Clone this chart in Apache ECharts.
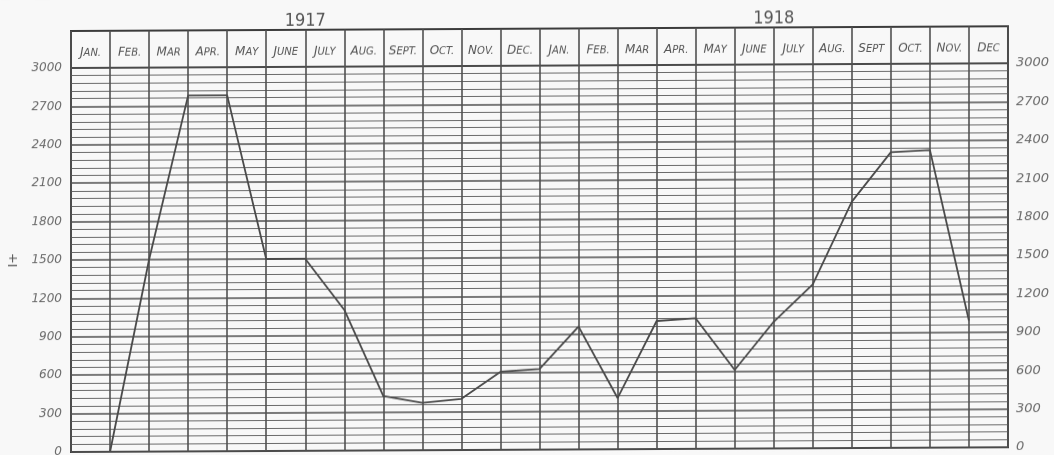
<!DOCTYPE html>
<html>
<head>
<meta charset="utf-8">
<script src="https://cdn.jsdelivr.net/npm/echarts@6/dist/echarts.min.js"></script>
<style>
html,body{margin:0;padding:0;background:#f8f8f8;overflow:hidden;}
#chart{width:1054px;height:455px;transform:skewY(-0.29deg);transform-origin:71px 0;}
</style>
</head>
<body>
<div id="chart"></div>
<script>
// ---- data ----
const years = ['1917', '1918'];
const months = ['JAN.','FEB.','MAR','APR.','MAY','JUNE','JULY','AUG.','SEPT.','OCT.','NOV.','DEC.',
                'JAN.','FEB.','MAR','APR.','MAY','JUNE','JULY','AUG.','SEPT','OCT.','NOV.','DEC'];
// value at the start of each month (Jan 1917 has no reading)
const values = [null, 0, 1500, 2780, 2780, 1500, 1500, 1100, 425, 370, 400, 610,
                630, 960, 400, 1000, 1020, 615, 990, 1280, 1925, 2310, 2325, 990];
const yMin = 0, yMax = 3000, yStep = 300;
const yName = 'I+';

// ---- chart ----
const ink = '#4a4a4a';
const chart = echarts.init(document.getElementById('chart'), null, {renderer: 'canvas', width: 1054, height: 455});
const seriesData = values.map((v, i) => [i, v]).filter(d => d[1] !== null);

chart.setOption({
  backgroundColor: '#f8f8f8',
  animation: false,
  grid: [
    {left: 71, width: 937, top: 68, height: 384, outerBoundsMode: 'none', containLabel: false,
     show: true, borderColor: '#3c3c3c', borderWidth: 2},
    {left: 71, width: 937, top: 31, height: 37, outerBoundsMode: 'none', containLabel: false,
     show: true, borderColor: '#3c3c3c', borderWidth: 2}
  ],
  xAxis: [
    {gridIndex: 0, type: 'value', min: 0, max: months.length, interval: 1,
     axisLine: {show: false}, axisTick: {show: false}, axisLabel: {show: false},
     splitLine: {show: true, lineStyle: {color: '#505050', width: 1.6}}},
    {gridIndex: 1, type: 'category', data: months, boundaryGap: true, position: 'bottom',
     axisLine: {show: false}, axisTick: {show: false},
     splitLine: {show: true, interval: 0, lineStyle: {color: '#505050', width: 1.6}},
     axisLabel: {inside: true, interval: 0, margin: 9,
       formatter: v => '{a|' + v[0] + '}{b|' + v.slice(1) + '}',
       rich: {
         a: {fontFamily: 'DejaVu Sans', fontStyle: 'italic', fontSize: 12, color: '#555'},
         b: {fontFamily: 'DejaVu Sans', fontStyle: 'italic', fontSize: 10, color: '#555'}
       }}},
    {gridIndex: 1, type: 'category', data: years, boundaryGap: true, position: 'top',
     axisLine: {show: false}, axisTick: {show: false}, splitLine: {show: false},
     axisLabel: {margin: 0, fontFamily: "'Liberation Sans Narrow','DejaVu Sans Condensed',sans-serif",
       fontSize: 18, color: '#555'}}
  ],
  yAxis: [
    {gridIndex: 0, type: 'value', min: yMin, max: yMax, interval: yStep, position: 'left',
     name: yName, nameLocation: 'middle', nameRotate: 90, nameGap: 50,
     nameTextStyle: {fontFamily: 'DejaVu Sans', fontSize: 13, color: '#555'},
     axisLine: {show: false}, axisTick: {show: false},
     axisLabel: {margin: 9, fontFamily: 'DejaVu Sans', fontStyle: 'italic', fontSize: 12, color: '#6a6a6a',
       formatter: v => String(v)},
     splitLine: {show: true, lineStyle: {color: '#505050', width: 1.6}},
     minorTick: {show: false, splitNumber: 5},
     minorSplitLine: {show: true, lineStyle: {color: '#6a6a6a', width: 1.1}}},
    {gridIndex: 0, type: 'value', min: yMin, max: yMax, interval: yStep, position: 'right',
     axisLine: {show: false}, axisTick: {show: false}, splitLine: {show: false},
     axisLabel: {margin: 8, fontFamily: 'DejaVu Sans', fontStyle: 'italic', fontSize: 13, color: '#6a6a6a',
       formatter: v => String(v)}},
    {gridIndex: 1, type: 'value', show: false, min: 0, max: 1, splitLine: {show: false}}
  ],
  series: [{
    type: 'line', xAxisIndex: 0, yAxisIndex: 0, data: seriesData,
    showSymbol: false, symbol: 'none', smooth: false,
    lineStyle: {color: ink, width: 1.8}
  }]
});
</script>
</body>
</html>
